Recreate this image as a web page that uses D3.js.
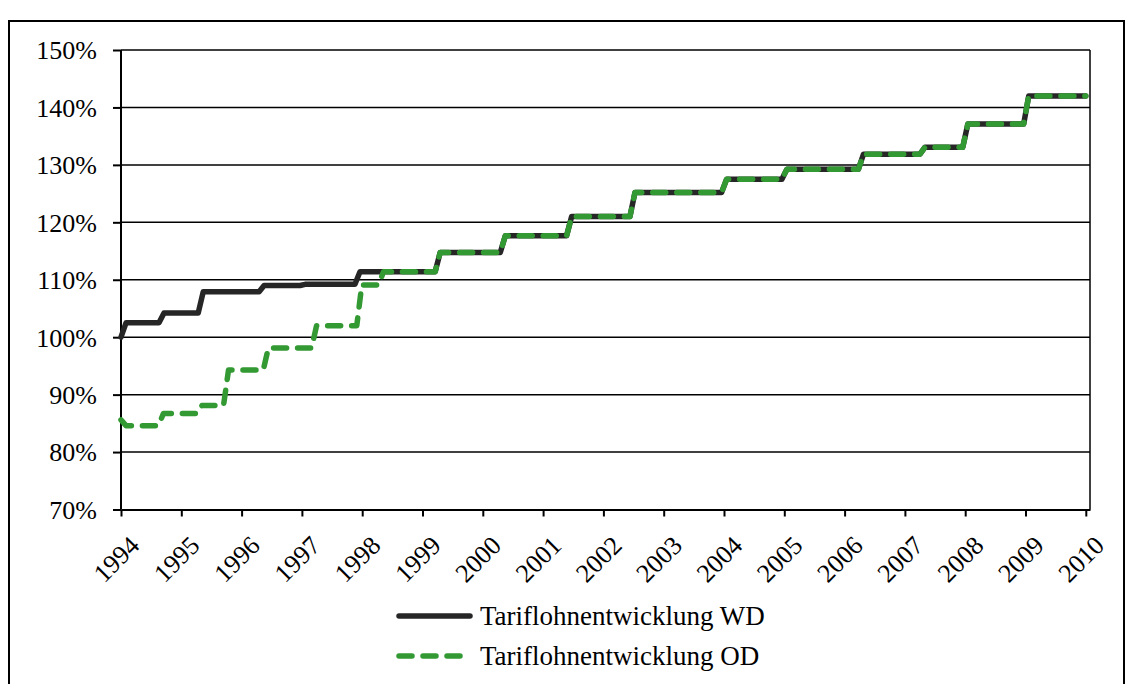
<!DOCTYPE html>
<html>
<head>
<meta charset="utf-8">
<script src="https://cdn.jsdelivr.net/npm/d3@7"></script>
<style>
  html, body { margin: 0; padding: 0; background: #fff; }
  svg { display: block; }
  svg text { font-family: "Times New Roman", "Liberation Serif", Tinos, "DejaVu Serif", serif; fill: #000; }
</style>
</head>
<body>
<svg id="chart" width="1132" height="684"></svg>
<script>
// ---- data ----
const yearTicks = [1994,1995,1996,1997,1998,1999,2000,2001,2002,2003,2004,2005,2006,2007,2008,2009,2010];
const yTicks = [0.7,0.8,0.9,1.0,1.1,1.2,1.3,1.4,1.5];
const seriesNames = ["Tariflohnentwicklung WD", "Tariflohnentwicklung OD"];

// WD: starting value, then year in which each change begins and the new level
const wdStart = 1.000;
const wdStepYears  = [1994.00, 1994.63, 1995.28, 1996.29, 1996.97, 1997.88, 1999.21, 2000.29, 2001.39, 2002.44, 2003.96, 2004.96, 2006.23, 2007.25, 2007.96, 2008.97];
const wdStepValues = [1.025,   1.042,   1.079,   1.090,   1.092,   1.114,   1.1475,  1.1765,  1.210,   1.252,   1.275,   1.2925,  1.3186,  1.3308,  1.371,   1.420];

// OD
const odStart = 0.856;
const odStepYears  = [1994.00, 1994.62, 1995.26, 1995.70, 1996.36, 1997.16, 1997.91, 1998.27, 1999.21, 2000.29, 2001.39, 2002.44, 2003.96, 2004.96, 2006.23, 2007.25, 2007.96, 2008.97];
const odStepValues = [0.846,   0.867,   0.881,   0.943,   0.981,   1.020,   1.091,   1.114,   1.1475,  1.1765,  1.210,   1.252,   1.275,   1.2925,  1.3186,  1.3308,  1.371,   1.420];
const lastYear = 2010.0;

// ---- build monthly step series ----
function buildSeries(start, years, values) {
  const pts = [[yearTicks[0], start]];
  let prev = start;
  years.forEach((yr, i) => {
    pts.push([yr, prev]);
    pts.push([yr + 1/12, values[i]]);
    prev = values[i];
  });
  pts.push([lastYear, prev]);
  return pts;
}
const wd = buildSeries(wdStart, wdStepYears, wdStepValues);
const od = buildSeries(odStart, odStepYears, odStepValues);

// ---- layout ----
const FONT = '"Times New Roman", "Liberation Serif", Tinos, serif';
const svg = d3.select("#chart");
const pLeft = 121, pRight = 1090, pTop = 50, pBottom = 509.5;
const x = d3.scaleLinear().domain([1994, 1994 + (pRight - pLeft) / 60.3]).range([pLeft, pRight]);
const y = d3.scaleLinear().domain([0.7, 1.5]).range([pBottom, pTop]);

// outer frame
svg.append("rect").attr("x", 9).attr("y", 21).attr("width", 1115).attr("height", 700)
  .attr("fill", "none").attr("stroke", "#000").attr("stroke-width", 2);

// gridlines
svg.append("g").selectAll("line").data(yTicks.filter(v => v > 0.7)).join("line")
  .attr("x1", pLeft).attr("x2", pRight)
  .attr("y1", d => y(d)).attr("y2", d => y(d))
  .attr("stroke", "#000").attr("stroke-width", 1.5);

// plot right border
svg.append("line").attr("x1", pRight).attr("x2", pRight).attr("y1", pTop).attr("y2", pBottom)
  .attr("stroke", "#000").attr("stroke-width", 1.5);

// y axis
const yAxis = svg.append("g").attr("transform", `translate(${pLeft},0)`)
  .call(d3.axisLeft(y).tickValues(yTicks).tickFormat(d3.format(".0%")).tickSize(8).tickPadding(16));
yAxis.attr("font-family", FONT).attr("font-size", 26);
yAxis.selectAll("path,line").attr("stroke", "#000").attr("stroke-width", 2);
yAxis.select(".domain").attr("d", `M0,${pTop}V${pBottom}`);
yAxis.selectAll("text").attr("dy", "0.34em");

// x axis
const xAxis = svg.append("g").attr("transform", `translate(0,${pBottom})`)
  .call(d3.axisBottom(x).tickValues(yearTicks).tickFormat(d3.format("d")).tickSize(7).tickSizeOuter(0));
xAxis.attr("font-family", FONT).attr("font-size", 26);
xAxis.selectAll("path,line").attr("stroke", "#000").attr("stroke-width", 2);
xAxis.selectAll("text")
  .attr("text-anchor", "end")
  .attr("transform", "translate(13,31) rotate(-45)")
  .attr("y", 0).attr("dy", "0.35em").attr("x", 0);

// lines
const line = d3.line().x(d => x(d[0])).y(d => y(d[1]));
svg.append("path").datum(wd).attr("d", line)
  .attr("fill", "none").attr("stroke", "#262626").attr("stroke-width", 5.5)
  .attr("stroke-linejoin", "round").attr("stroke-linecap", "round");
svg.append("path").datum(od).attr("d", line)
  .attr("fill", "none").attr("stroke", "#339933").attr("stroke-width", 5.5)
  .attr("stroke-dasharray", "13,11")
  .attr("stroke-linejoin", "round").attr("stroke-linecap", "round");

// legend
const legend = svg.append("g").attr("font-family", FONT).attr("font-size", 27);
const legendRows = [
  {name: seriesNames[0], color: "#262626", dash: null, ly: 616},
  {name: seriesNames[1], color: "#339933", dash: "13,11", ly: 656}
];
legendRows.forEach(r => {
  legend.append("line").attr("x1", 399).attr("x2", 470).attr("y1", r.ly).attr("y2", r.ly)
    .attr("stroke", r.color).attr("stroke-width", 5.5).attr("stroke-linecap", "round")
    .attr("stroke-dasharray", r.dash);
  legend.append("text").attr("x", 480).attr("y", r.ly).attr("dy", "0.33em").text(r.name);
});
</script>
</body>
</html>
